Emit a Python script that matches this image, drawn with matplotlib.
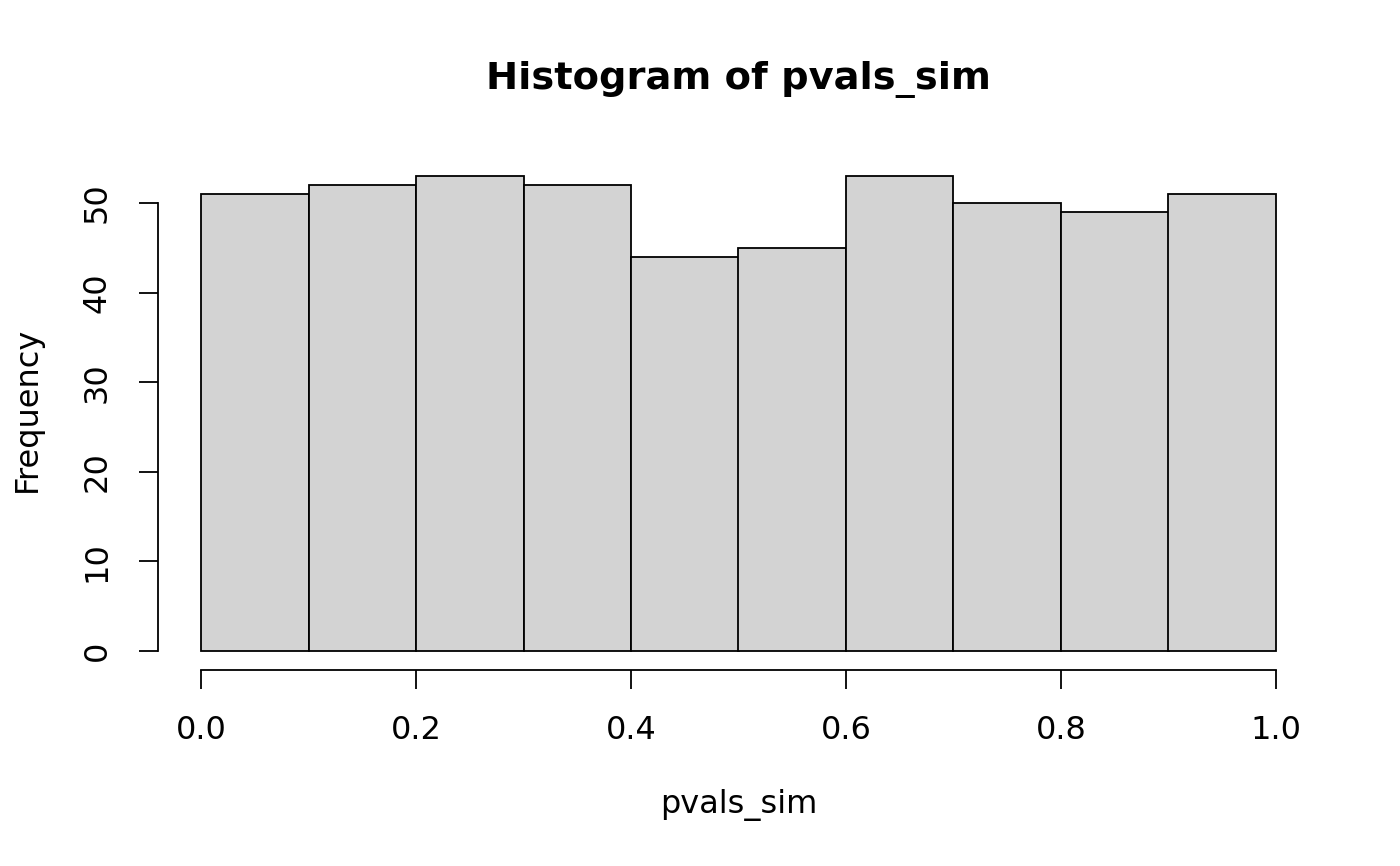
import matplotlib
matplotlib.use("Agg")
import matplotlib.pyplot as plt

# histogram of simulated p-values, R base-graphics look
bin_edges = [0.0, 0.1, 0.2, 0.3, 0.4, 0.5, 0.6, 0.7, 0.8, 0.9, 1.0]
counts = [51, 52, 53, 52, 44, 45, 53, 50, 49, 51]
x_ticks = [0.0, 0.2, 0.4, 0.6, 0.8, 1.0]
x_tick_labels = ["0.0", "0.2", "0.4", "0.6", "0.8", "1.0"]
y_ticks = [0, 10, 20, 30, 40, 50]

plt.rcParams["font.family"] = "DejaVu Sans"

fig = plt.figure(figsize=(14, 8.66), dpi=100)
ax = fig.add_axes([158 / 1400, 1 - 670 / 866, (1319 - 158) / 1400, (670 - 157) / 866])

lefts = bin_edges[:-1]
widths = [b - a for a, b in zip(bin_edges[:-1], bin_edges[1:])]
ax.bar(lefts, counts, width=widths, align="edge",
       color="#d3d3d3", edgecolor="black", linewidth=1.3)

# R extends the ranges by 4%
ymax = max(counts)
ax.set_xlim(-0.04, 1.04)
ax.set_ylim(-0.04 * ymax, ymax * 1.04)

for side in ["top", "right"]:
    ax.spines[side].set_visible(False)
ax.spines["left"].set_bounds(y_ticks[0], y_ticks[-1])
ax.spines["bottom"].set_bounds(x_ticks[0], x_ticks[-1])
ax.spines["left"].set_linewidth(1.3)
ax.spines["bottom"].set_linewidth(1.3)

ax.set_xticks(x_ticks)
ax.set_xticklabels(x_tick_labels)
ax.set_yticks(y_ticks)
ax.set_yticklabels([str(v) for v in y_ticks], rotation=90, va="center")
ax.tick_params(axis="both", direction="out", length=13.7, width=1.3,
               labelsize=23, pad=19)

fig.text((158 + 1319) / 2 / 1400, 1 - 79 / 866, "Histogram of pvals_sim",
         ha="center", va="center", fontsize=27.6, fontweight="bold")
fig.text((158 + 1319) / 2 / 1400, 1 - 805 / 866, "pvals_sim",
         ha="center", va="center", fontsize=23)
fig.text(27 / 1400, 1 - 409 / 866, "Frequency", rotation=90,
         ha="center", va="center", fontsize=23)

fig.savefig("out.png", dpi=100)
